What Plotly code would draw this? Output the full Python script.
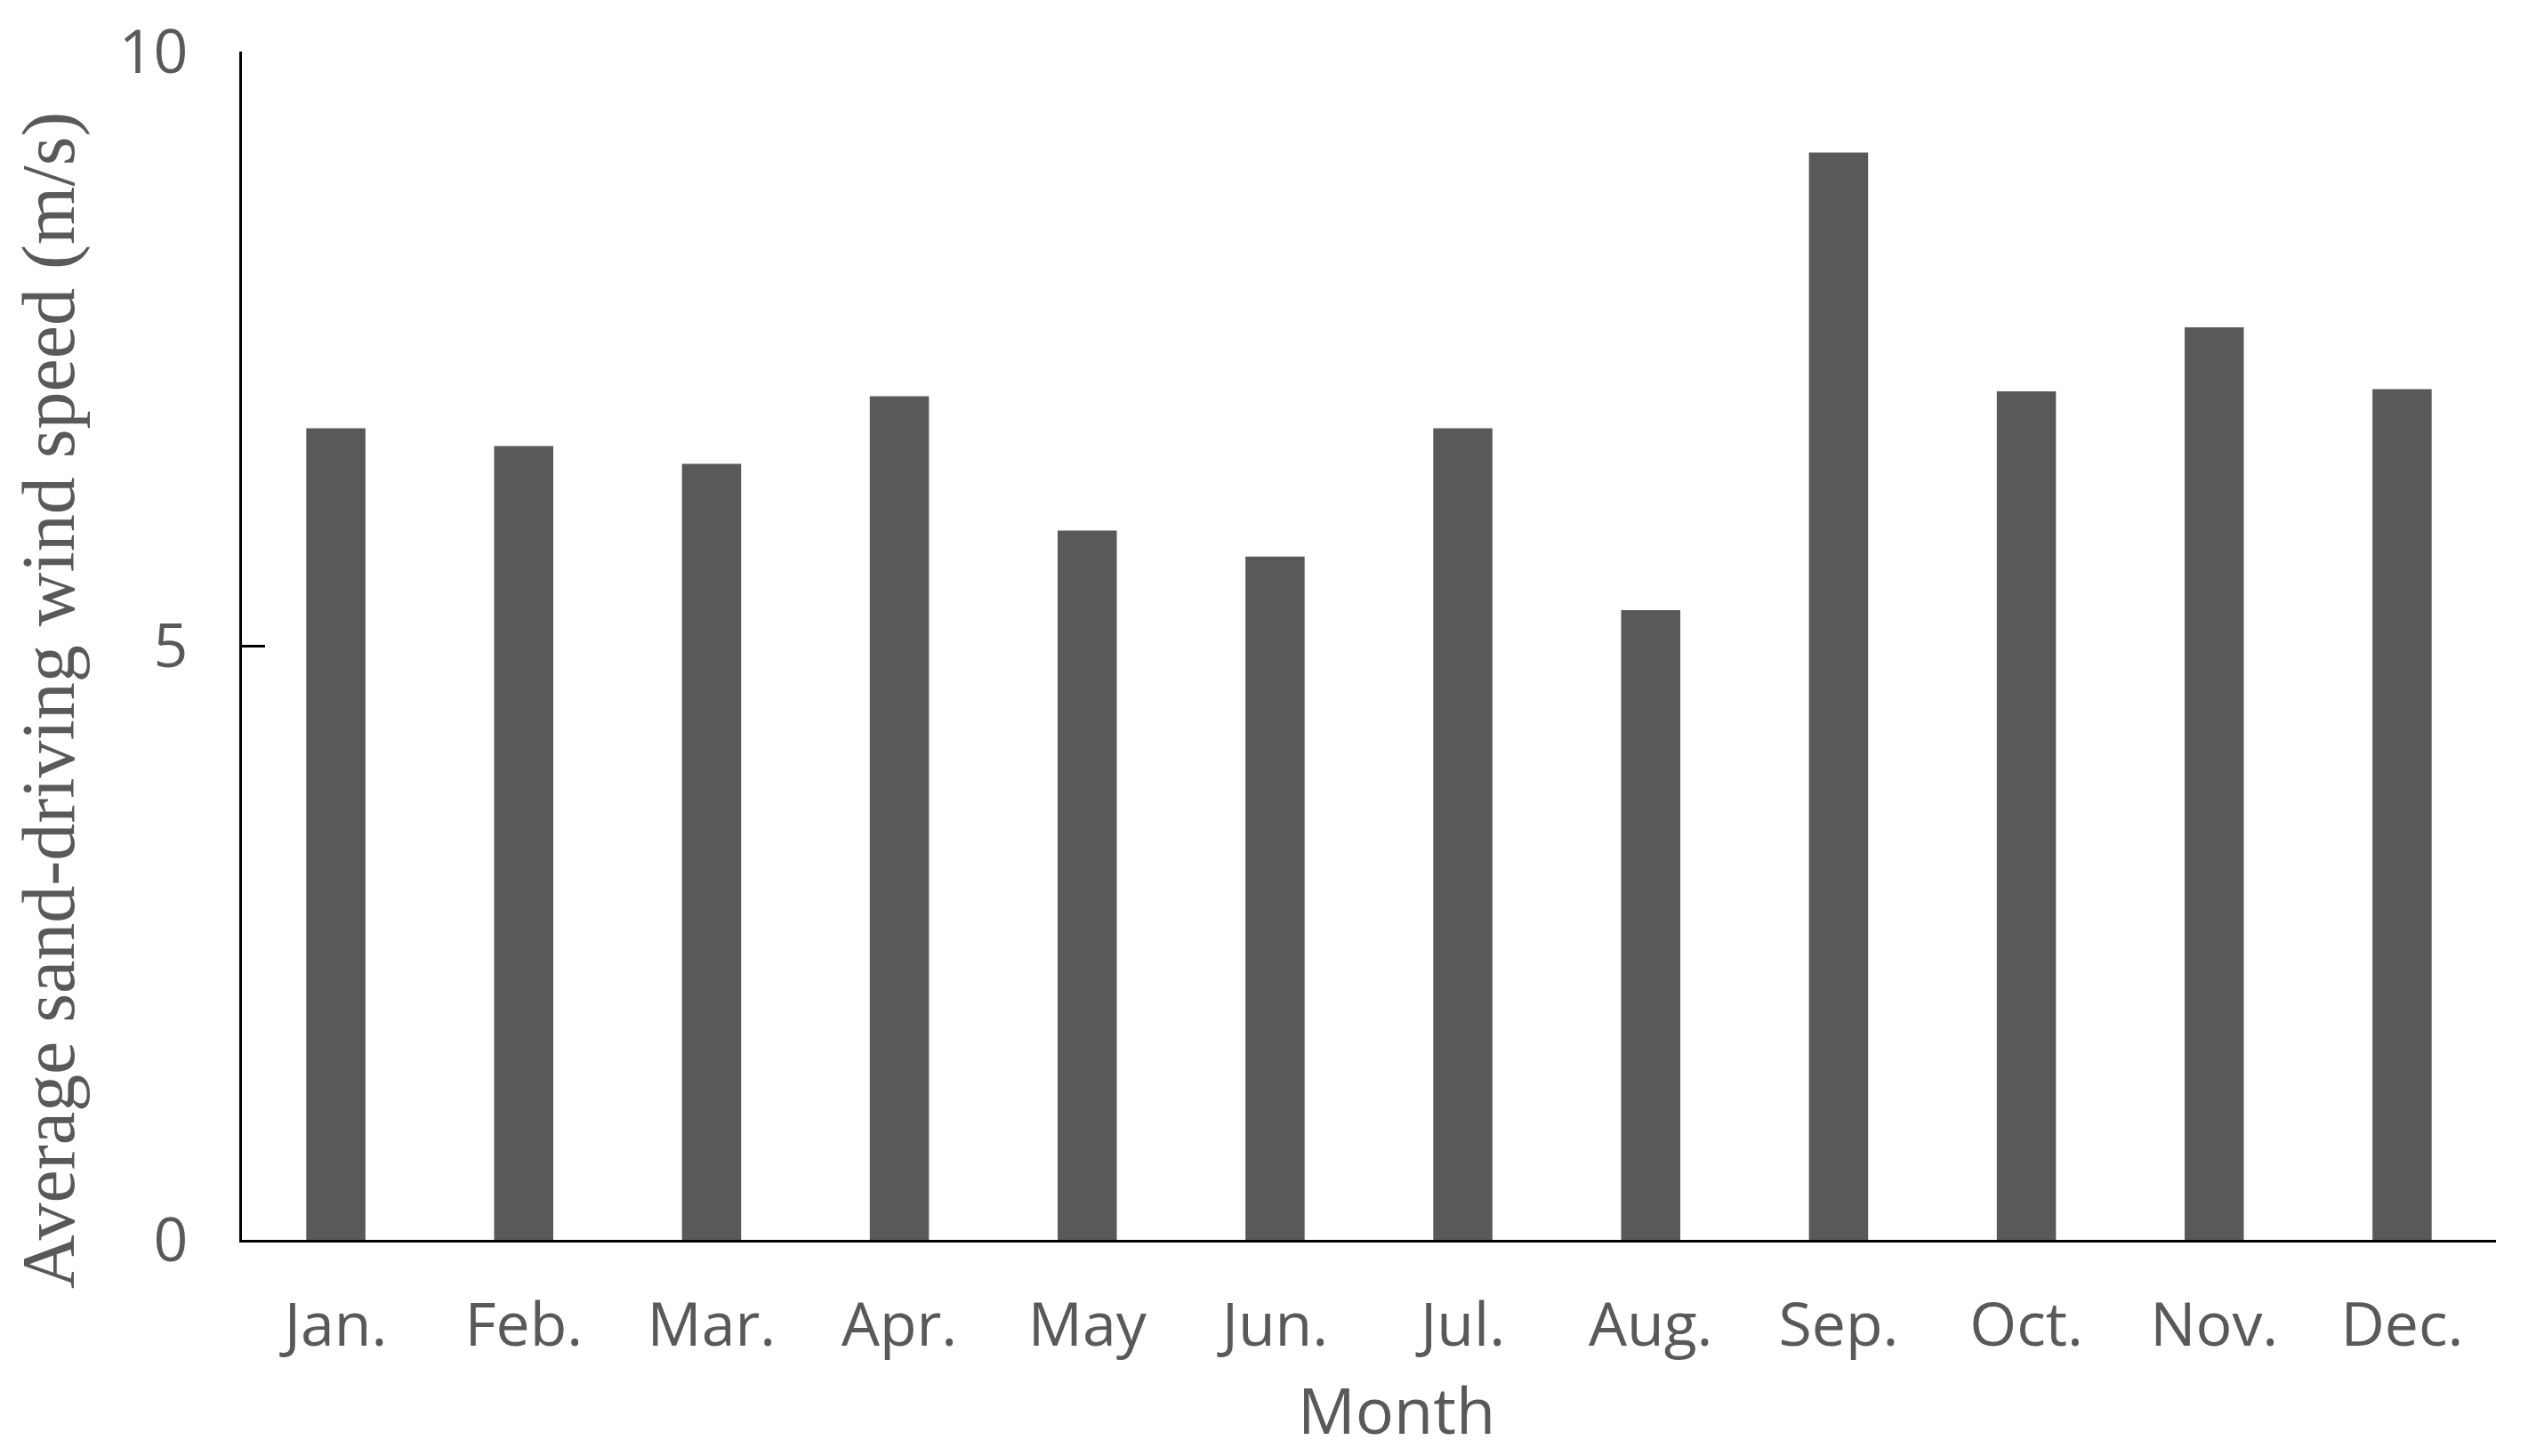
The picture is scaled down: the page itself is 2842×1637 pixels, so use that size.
import plotly.graph_objects as go

months = ["Jan.", "Feb.", "Mar.", "Apr.", "May", "Jun.", "Jul.", "Aug.", "Sep.", "Oct.", "Nov.", "Dec."]
wind_speed = [6.83, 6.68, 6.53, 7.10, 5.97, 5.75, 6.83, 5.30, 9.15, 7.14, 7.68, 7.16]
y_ticks = [0, 5, 10]

# the page body adds an 8px offset; compensate so the figure lands like the reference
OFF = 8
W, H = 2842 - OFF, 1637 - OFF
L, R, T, B = 272 - OFF, 36, 58 - OFF, 243
PW, PH = W - L - R, H - T - B


def px_x(x):
    return (x - OFF - L) / PW


def px_y(y):
    return (H - B - (y - OFF)) / PH


fig = go.Figure()
fig.add_trace(go.Bar(x=months, y=wind_speed, marker=dict(color="#595959", line=dict(width=0)),
                     showlegend=False))

fig.update_layout(
    width=W, height=H,
    margin=dict(l=L, r=R, t=T, b=B, pad=0),
    paper_bgcolor="white", plot_bgcolor="white",
    bargap=0.685,
    xaxis=dict(
        type="category", range=[-0.5, 11.5], automargin=False,
        showline=True, linecolor="#000000", linewidth=3,
        ticks="", showgrid=False, zeroline=False,
        tickfont=dict(family="Open Sans", size=68, color="#595959"),
        ticklabelstandoff=34,
    ),
    yaxis=dict(
        range=[0, 10], tickvals=y_ticks, ticktext=[str(v) for v in y_ticks], automargin=False,
        showline=True, linecolor="#000000", linewidth=3,
        ticks="inside", ticklen=26, tickwidth=3, tickcolor="#000000",
        showgrid=False, zeroline=False,
        tickfont=dict(family="Open Sans", size=68, color="#595959"),
        ticklabelstandoff=44,
    ),
    annotations=[
        dict(text="Average sand-driving wind speed (m/s)", textangle=-90,
             xref="paper", yref="paper", x=px_x(55), y=px_y(788),
             xanchor="center", yanchor="middle", showarrow=False,
             font=dict(family="Liberation Serif", size=84, color="#595959")),
        dict(text="Month",
             xref="paper", yref="paper", x=px_x(1570), y=px_y(1584),
             xanchor="center", yanchor="middle", showarrow=False,
             font=dict(family="Open Sans", size=72, color="#595959")),
    ],
)

fig.write_html("out.html")
